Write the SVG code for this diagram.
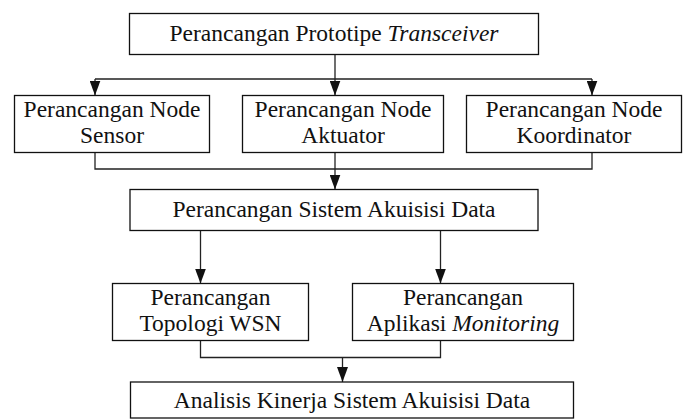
<svg xmlns="http://www.w3.org/2000/svg" width="684" height="419" viewBox="0 0 684 419">
<style>
.box{fill:#fff;stroke:#111;stroke-width:1.3}
text{font-family:'Liberation Serif','Times New Roman',Times,serif;font-size:23.5px;fill:#111;text-anchor:middle}
.i{font-style:italic}
.c{fill:none;stroke:#222;stroke-width:1.3}
</style>
<defs>
<marker id="ah" markerUnits="userSpaceOnUse" markerWidth="15" markerHeight="11" refX="15" refY="5.5" orient="auto">
<path d="M0,0 L15,5.5 L0,11 z" fill="#111"/>
</marker>
</defs>
<g id="connectors">
<path class="c" d="M335,54.5 V79 M95,79 H592"/>
<path class="c" d="M95,79 V95.5" marker-end="url(#ah)"/>
<path class="c" d="M335,79 V95.5" marker-end="url(#ah)"/>
<path class="c" d="M592,79 V95.5" marker-end="url(#ah)"/>
<path class="c" d="M95,152.5 V169 H592 V152.5"/>
<path class="c" d="M335,152.5 V189.5" marker-end="url(#ah)"/>
<path class="c" d="M200.5,230.5 V283.5" marker-end="url(#ah)"/>
<path class="c" d="M440.5,230.5 V283.5" marker-end="url(#ah)"/>
<path class="c" d="M200.5,340.5 V357.5 H440.5 V340.5"/>
<path class="c" d="M342.5,357.5 V382" marker-end="url(#ah)"/>
</g>
<g id="n1">
<rect class="box" x="129.5" y="13.5" width="409" height="41"/>
<text x="334" y="41" font-family="Liberation Serif, serif">Perancangan Prototipe <tspan class="i">Transceiver</tspan></text>
</g>
<g id="n2">
<rect class="box" x="14.5" y="95.5" width="195" height="57"/>
<text x="112" y="117">Perancangan Node</text>
<text x="112" y="143">Sensor</text>
</g>
<g id="n3">
<rect class="box" x="242.5" y="95.5" width="201" height="57"/>
<text x="343" y="117">Perancangan Node</text>
<text x="343" y="143">Aktuator</text>
</g>
<g id="n4">
<rect class="box" x="466.5" y="95.5" width="215" height="57"/>
<text x="574" y="117">Perancangan Node</text>
<text x="574" y="143">Koordinator</text>
</g>
<g id="n5">
<rect class="box" x="130" y="189.5" width="408" height="41"/>
<text x="334" y="217">Perancangan Sistem Akuisisi Data</text>
</g>
<g id="n6">
<rect class="box" x="112.5" y="283.5" width="196" height="57"/>
<text x="210.5" y="305">Perancangan</text>
<text x="210.5" y="331">Topologi WSN</text>
</g>
<g id="n7">
<rect class="box" x="352.5" y="283.5" width="221" height="57"/>
<text x="463" y="305">Perancangan</text>
<text x="463" y="331">Aplikasi <tspan class="i">Monitoring</tspan></text>
</g>
<g id="n8">
<rect class="box" x="130.5" y="382" width="443" height="36"/>
<text x="352" y="408">Analisis Kinerja Sistem Akuisisi Data</text>
</g>
</svg>
